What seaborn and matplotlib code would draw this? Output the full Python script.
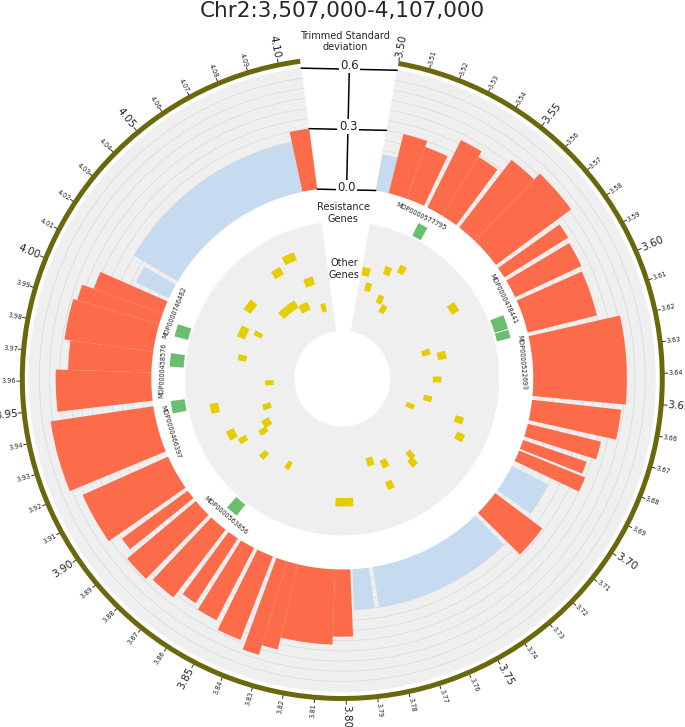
import numpy as np
import matplotlib
matplotlib.use('Agg')
import matplotlib.pyplot as plt
import seaborn as sns

sns.set_theme(style='white')
plt.rcParams['font.family'] = ['DejaVu Sans']

# trimmed standard deviation per window (Mb); high=1 -> orange, 0 -> blue
bar_start = [3.500, 3.507, 3.517, 3.529, 3.538, 3.549, 3.560, 3.579, 3.587, 3.599,
             3.619, 3.653, 3.666, 3.675, 3.681, 3.690, 3.707, 3.723, 3.787, 3.797,
             3.805, 3.825, 3.831, 3.839, 3.850, 3.860, 3.868, 3.880, 3.892, 3.899,
             3.921, 3.949, 3.964, 3.975, 3.990, 3.996, 4.005, 4.015, 4.099]
bar_end = [3.507, 3.517, 3.527, 3.538, 3.547, 3.560, 3.577, 3.585, 3.597, 3.617,
           3.651, 3.664, 3.673, 3.680, 3.687, 3.705, 3.721, 3.785, 3.796, 3.805,
           3.825, 3.831, 3.837, 3.848, 3.858, 3.866, 3.878, 3.890, 3.897, 3.918,
           3.946, 3.964, 3.975, 3.990, 3.996, 4.003, 4.013, 4.099, 4.107]
bar_value = [0.18, 0.30, 0.27, 0.37, 0.34, 0.42, 0.46, 0.37, 0.36, 0.35,
             0.46, 0.44, 0.37, 0.33, 0.35, 0.20, 0.29, 0.20, 0.20, 0.33,
             0.37, 0.43, 0.48, 0.44, 0.40, 0.38, 0.42, 0.44, 0.40, 0.46,
             0.51, 0.47, 0.41, 0.44, 0.42, 0.36, 0.18, 0.25, 0.30]
bar_high = [0, 1, 1, 1, 1, 1, 1, 1, 1, 1,
            1, 1, 1, 1, 1, 0, 1, 0, 0, 1,
            1, 1, 1, 1, 1, 1, 1, 1, 1, 1,
            1, 1, 1, 1, 1, 1, 0, 0, 1]

# resistance genes
res_pos = [3.5314, 3.6078, 3.6152, 3.9895, 3.9718, 3.9438, 3.8716]
res_width = [0.006, 0.0085, 0.005, 0.0075, 0.008, 0.0075, 0.0075]
res_label = ['MDP0000577795', 'MDP0000478441', 'MDP0000522693', 'MDP0000746482',
             'MDP0000458576', 'MDP0000466397', 'MDP0000563856']
res_label_pos = [3.5282, 3.5950, 3.6328, 3.9989, 3.9654, 3.9305, 3.8732]

# other genes: centre (Mb), length (Mb), stacking lane
other_pos = [4.0782, 4.0644, 4.0869, 4.0282, 4.0530, 4.0707, 4.0942, 4.0050, 4.0098, 3.9814,
             3.9550, 3.9376, 3.9250, 3.9071, 3.9012, 3.9133, 3.9048, 3.8823, 3.8576, 3.7996,
             3.7686, 3.7544, 3.7271, 3.7303, 3.7585, 3.6762, 3.6885, 3.6186, 3.5844, 3.5225,
             3.5330, 3.5273, 3.5360, 3.5043, 3.5101, 3.6427, 3.6112, 3.6803, 3.6649]
other_len = [0.0099, 0.0081, 0.0097, 0.0102, 0.0226, 0.0122, 0.0067, 0.0109, 0.0052, 0.0059,
             0.0068, 0.0076, 0.0074, 0.0091, 0.0063, 0.0081, 0.0052, 0.0055, 0.0049, 0.0146,
             0.0080, 0.0073, 0.0059, 0.0064, 0.0060, 0.0057, 0.0061, 0.0078, 0.0077, 0.0060,
             0.0056, 0.0066, 0.0073, 0.0073, 0.0064, 0.0064, 0.0067, 0.0068, 0.0066]
other_lane = [8, 7, 4, 6, 2, 1, 0, 5, 3, 4,
              0, 8, 1, 2, 3, 7, 6, 5, 4, 7,
              2, 3, 4, 5, 6, 7, 8, 4, 8, 6,
              7, 2, 1, 5, 3, 3, 2, 0, 2]

scale_ticks = [0.0, 0.3, 0.6]
tick_pos = np.round(np.arange(3.50, 4.1001, 0.01), 2)

title = 'Chr2:3,507,000-4,107,000'

# layout
POS0, POS_END = 3.50, 4.107
DEG0, DEG_PER_MB = 10.1, 564.0
R_AX = 335.0
R0, SCALE = 191.0, 203.5
R_TRACK_TOP = 313.5
R_RING = (317.5, 322.5)
R_INNER = (48.0, 157.0)
R_RES = (159.0, 173.0)
R_RES_LABEL = 180.0
LANE_R0, LANE_STEP, LANE_H = 73.0, 7.25, 8.5

ORANGE = '#fd6c4a'
BLUE = '#c6dbef'
GREEN = '#6abf6e'
YELLOW = '#e6cd00'
TRACK = '#efefef'
OLIVE = '#6b680c'


def th(pos):
    return np.deg2rad(DEG0 + (np.asarray(pos, dtype=float) - POS0) * DEG_PER_MB)


fig = plt.figure(figsize=(6.85, 7.27), dpi=100)
rect = [(342.3 - R_AX) / 685, (348.5 - R_AX) / 727, 2 * R_AX / 685, 2 * R_AX / 727]
ax = fig.add_axes(rect, projection='polar')
ax.set_theta_zero_location('N')
ax.set_theta_direction(-1)
ax.set_ylim(0, R_AX)
ax.set_xticks([])
ax.set_yticks([])
ax.grid(False)
ax.spines['polar'].set_visible(False)
ax.patch.set_alpha(0)

t0, t1 = th(POS0), th(POS_END)
span = t1 - t0

# track backgrounds
ax.bar(t0, R_TRACK_TOP - R0, width=span, bottom=R0, align='edge', color=TRACK, lw=0, zorder=0)
ax.bar(t0, R_INNER[1] - R_INNER[0], width=span, bottom=R_INNER[0], align='edge',
       color=TRACK, lw=0, zorder=0)
ax.bar(t0, R_RING[1] - R_RING[0], width=span, bottom=R_RING[0], align='edge',
       color=OLIVE, lw=0, zorder=3)

# grid arcs in the bar track
arc = np.linspace(t0, t1, 500)
for k in range(1, 12):
    r = R0 + k * 0.05 * SCALE
    ax.plot(arc, np.full_like(arc, r), color='#dcdcdc', lw=0.6, zorder=1)

# std bars
bs = th(bar_start)
be = th(bar_end)
heights = np.array(bar_value) * SCALE
colors = [ORANGE if h else BLUE for h in bar_high]
ax.bar(bs, heights, width=be - bs, bottom=R0, align='edge', color=colors, lw=0, zorder=2)

# resistance genes
ax.bar(th(res_pos), R_RES[1] - R_RES[0], width=np.deg2rad(np.array(res_width) * DEG_PER_MB),
       bottom=R_RES[0], color=GREEN, lw=0, zorder=2)
for lab, p in zip(res_label, res_label_pos):
    deg = DEG0 + (p - POS0) * DEG_PER_MB
    rot = -deg
    if 90 < deg < 270:
        rot += 180
    ax.text(th(p), R_RES_LABEL, lab, rotation=rot, rotation_mode='anchor',
            ha='center', va='center', fontsize=4.7, color='#222222', zorder=4)

# other genes
lane_r = LANE_R0 + np.array(other_lane) * LANE_STEP
ax.bar(th(other_pos), LANE_H, width=np.deg2rad(np.array(other_len) * DEG_PER_MB),
       bottom=lane_r - LANE_H / 2, color=YELLOW, lw=0, zorder=2)

# position ticks on the ring
for p in tick_pos:
    deg = DEG0 + (p - POS0) * DEG_PER_MB
    major = abs(round(p * 100) % 5) == 0
    r_end = R_RING[1] + (3.5 if major else 3)
    ax.plot([th(p), th(p)], [R_RING[1], r_end], color='#333333', lw=0.7,
            zorder=3, clip_on=False)
    if deg < 180:
        rot, ha = 90 - deg, 'left'
    else:
        rot, ha = 270 - deg, 'right'
    ax.text(th(p), r_end + 0.5, f'{p:.2f}', rotation=rot, rotation_mode='anchor',
            ha=ha, va='center', fontsize=7.5 if major else 4.7, color='#222222')

# overlay for the scale and the track titles
cax = fig.add_axes(rect)
cax.set_xlim(-R_AX, R_AX)
cax.set_ylim(-R_AX, R_AX)
cax.axis('off')
cax.patch.set_alpha(0)

mid = np.deg2rad(1.3)
rl, rr = t1 - 2 * np.pi, t0
cax.plot([R0 * np.sin(mid), R_TRACK_TOP * np.sin(mid)],
         [R0 * np.cos(mid), R_TRACK_TOP * np.cos(mid)], color='black', lw=1.1)
for v in scale_ticks:
    r = R0 + v * SCALE
    cax.plot([r * np.sin(rl), r * np.sin(rr)], [r * np.cos(rl), r * np.cos(rr)],
             color='black', lw=1.1)
    cax.text(r * np.sin(mid), r * np.cos(mid), f'{v:.1f}', ha='center', va='center',
             fontsize=8.5, bbox=dict(facecolor='white', edgecolor='none', pad=1.0))

cax.text(3, 337, 'Trimmed Standard\ndeviation', ha='center', va='center', fontsize=7,
         linespacing=1.2)
cax.text(1, 165.5, 'Resistance\nGenes', ha='center', va='center', fontsize=7,
         linespacing=1.2)
cax.text(2, 109.5, 'Other\nGenes', ha='center', va='center', fontsize=7,
         linespacing=1.2)

fig.text(0.5, 1 - 11 / 727, title, ha='center', va='center', fontsize=15.5)

fig.savefig('out.png', dpi=100)
